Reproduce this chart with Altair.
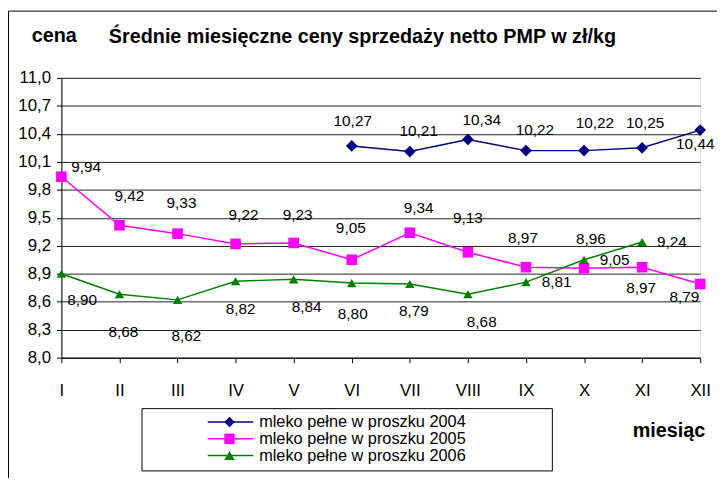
import altair as alt
import pandas as pd

months = ["I", "II", "III", "IV", "V", "VI", "VII", "VIII", "IX", "X", "XI", "XII"]
series_names = ["mleko pełne w proszku 2004", "mleko pełne w proszku 2005", "mleko pełne w proszku 2006"]
v2004 = [None, None, None, None, None, 10.27, 10.21, 10.34, 10.22, 10.22, 10.25, 10.44]
v2005 = [9.94, 9.42, 9.33, 9.22, 9.23, 9.05, 9.34, 9.13, 8.97, 8.96, 8.97, 8.79]
v2006 = [8.90, 8.68, 8.62, 8.82, 8.84, 8.80, 8.79, 8.68, 8.81, 9.05, 9.24, None]
y_ticks = [8.0, 8.3, 8.6, 8.9, 9.2, 9.5, 9.8, 10.1, 10.4, 10.7, 11.0]
title_text = "Średnie miesięczne ceny sprzedaży netto PMP w zł/kg"
y_title = "cena"
x_title = "miesiąc"

# label placement offsets (styling only, in pixels: dx right, dy down)
lab2004 = [None] * 5 + [(1, -25), (9, -21), (14, -20), (9, -21), (11, -28), (3, -25), (-5, 14)]
lab2005 = [(25, -10), (10, -30), (4, -31), (8, -29), (4, -28), (-1, -32), (9, -25), (0, -35),
           (-3, -30), (7, -29), (-1, 21), (-16, 13)]
lab2006 = [(21, 27), (4, 38), (9, 37), (5, 28), (13, 28), (1, 31), (4, 27), (14, 28),
           (31, 0), (31, 0), (30, 0), None]

colors = ["#000080", "#FF00FF", "#008000"]
shapes = ["diamond", "square", "triangle-up"]
sizes = [140, 90, 110]

W, H = 646, 283
Y0, Y1 = 8.0, 11.0

rows = []
for name, vals, labs in zip(series_names, [v2004, v2005, v2006], [lab2004, lab2005, lab2006]):
    for i, (v, lb) in enumerate(zip(vals, labs)):
        if v is None:
            continue
        rows.append({"idx": i + 1, "cena": v, "seria": name, "dx": lb[0], "dy": lb[1]})
df = pd.DataFrame(rows)

FONT = "Arial, Liberation Sans, sans-serif"
label_expr = "[" + ",".join("'%s'" % m for m in months) + "][datum.value - 1]"

xs = alt.Scale(domain=[1, 12], nice=False, zero=False)
ys = alt.Scale(domain=[Y0, Y1], nice=False, zero=False)
x_axis = alt.Axis(title=x_title, values=list(range(1, 13)), labelExpr=label_expr, labelAngle=0,
                  labelFontSize=17, labelPadding=20, tickSize=5, tickColor="black",
                  domainColor="black", grid=False, titleFontSize=20, titleFontWeight="bold",
                  titleX=614, titleY=80, titleBaseline="alphabetic", titleAlign="center",
                  labelColor="black", titleColor="black", labelFont=FONT, titleFont=FONT,
                  labelFlush=False)
y_axis = alt.Axis(title=None, values=y_ticks, labelFontSize=17, labelPadding=6,
                  labelExpr="replace(format(datum.value, '.1f'), '.', ',')",
                  tickSize=5, tickColor="black", domainColor="black",
                  grid=True, gridColor="#222222", gridWidth=1,
                  labelColor="black", labelFont=FONT)

x_enc = alt.X("idx:Q", scale=xs, axis=x_axis)
y_enc = alt.Y("cena:Q", scale=ys, axis=y_axis)
color_enc = alt.Color("seria:N", scale=alt.Scale(domain=series_names, range=colors), legend=None)
shape_enc = alt.Shape("seria:N", scale=alt.Scale(domain=series_names, range=shapes), legend=None)

base = alt.Chart(df)
lines = base.mark_line(strokeWidth=1.5).encode(x=x_enc, y=y_enc, color=color_enc, detail="seria:N")
points = base.mark_point(filled=True, opacity=1).encode(
    x=x_enc, y=y_enc, color=color_enc, shape=shape_enc,
    size=alt.Size("seria:N", scale=alt.Scale(domain=series_names, range=sizes), legend=None),
)
labels = base.transform_calculate(
    lab="replace(format(datum.cena, '.2f'), '.', ',')",
    lx="datum.idx + datum.dx * %f" % (11.0 / W),
    ly="datum.cena - datum.dy * %f" % ((Y1 - Y0) / H),
).mark_text(fontSize=15.5, font=FONT, color="black").encode(
    x=alt.X("lx:Q", scale=xs, axis=x_axis),
    y=alt.Y("ly:Q", scale=ys, axis=y_axis),
    text="lab:N",
)

one = pd.DataFrame({"a": [0]})
frame = alt.Chart(one).mark_rect(fill="transparent", stroke="black", strokeWidth=1).encode(
    x=alt.value(-53.5), x2=alt.value(700), y=alt.value(-67.5), y2=alt.value(450))
legend_box = alt.Chart(one).mark_rect(fill="transparent", stroke="black", strokeWidth=1).encode(
    x=alt.value(81.5), x2=alt.value(496.5), y=alt.value(334.5), y2=alt.value(397.5))
title_mark = alt.Chart(one).mark_text(align="left", baseline="alphabetic", fontSize=20,
                                      fontWeight="bold", font=FONT, color="black").encode(
    x=alt.value(48), y=alt.value(-35), text=alt.value(title_text))
ytitle_mark = alt.Chart(one).mark_text(align="left", baseline="alphabetic", fontSize=20,
                                       fontWeight="bold", font=FONT, color="black").encode(
    x=alt.value(-30), y=alt.value(-36), text=alt.value(y_title))

# legend built from the series list through its own set of row positions
leg_df = pd.DataFrame({"seria": series_names})
leg_y = alt.Y("seria:N", scale=alt.Scale(type="point", domain=series_names, range=[348, 382], padding=0),
              axis=None)
leg_line = alt.Chart(leg_df).mark_rule(strokeWidth=1.5).encode(
    x=alt.value(148), x2=alt.value(194), y=leg_y, color=color_enc)
leg_pt = alt.Chart(leg_df).mark_point(filled=True, opacity=1, size=110).encode(
    x=alt.value(170), y=leg_y, color=color_enc, shape=shape_enc)
leg_txt = alt.Chart(leg_df).mark_text(align="left", baseline="middle", fontSize=16.5, font=FONT,
                                      color="black").encode(
    x=alt.value(200), y=leg_y, text="seria:N")
legend = alt.layer(leg_line, leg_pt, leg_txt)

main = alt.layer(lines, points, labels)

chart = alt.layer(frame, legend_box, title_mark, ytitle_mark, main, legend).resolve_scale(
    y="independent"
).properties(
    width=W, height=H,
    autosize=alt.AutoSizeParams(type="none"),
    padding={"left": 54, "top": 68, "right": 17, "bottom": 119},
).configure_view(stroke="black", strokeWidth=1).configure(background="white")

chart.save("out.html", embed_options={"renderer": "svg", "actions": False})
